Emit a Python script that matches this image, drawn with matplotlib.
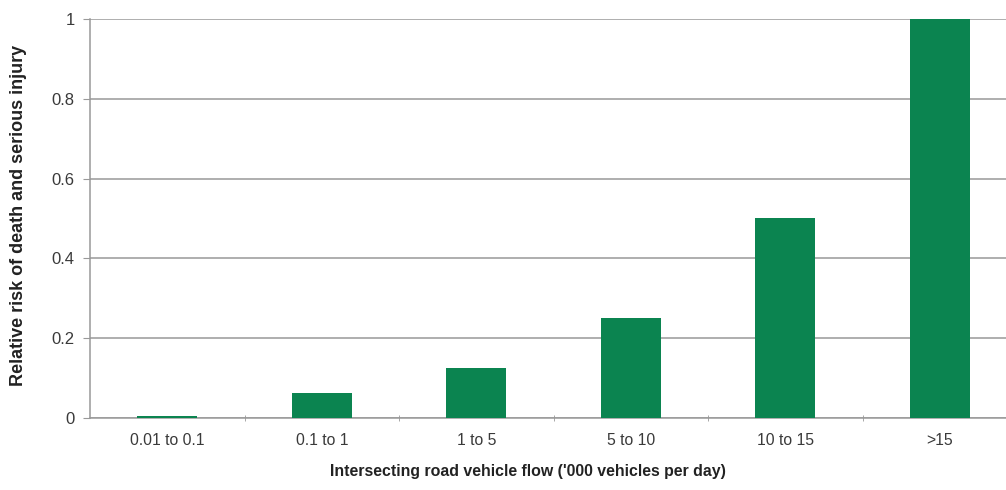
import matplotlib
matplotlib.use('Agg')
import matplotlib.pyplot as plt

categories = ["0.01 to 0.1", "0.1 to 1", "1 to 5", "5 to 10", "10 to 15", ">15"]
relative_risk = [0.005, 0.0625, 0.125, 0.25, 0.5, 1.0]
y_ticks = [0, 0.2, 0.4, 0.6, 0.8, 1]
y_tick_labels = ["0", "0.2", "0.4", "0.6", "0.8", "1"]

plt.rcParams['font.family'] = ['Liberation Sans', 'DejaVu Sans']

fig = plt.figure(figsize=(10.06, 4.9), dpi=100)
# axes run past the right edge, as in the cropped original
ax = fig.add_axes([90 / 1006, 1 - 418 / 490, 927 / 1006, 399 / 490])

x = list(range(len(categories)))
ax.bar(x, relative_risk, width=0.39, color='#0b8450', zorder=3)

ax.set_xlim(-0.5, len(categories) - 0.5)
ax.set_ylim(0, 1)
ax.set_yticks(y_ticks)
ax.set_yticklabels(y_tick_labels, fontsize=12, color='#3a3a3a')
ax.set_xticks(x)
ax.set_xticklabels(categories, fontsize=11.3, color='#3a3a3a')
ax.set_xticks([i + 0.5 for i in x[:-1]], minor=True)

ax.grid(axis='y', color='#999999', linewidth=1.1, zorder=0)
for s in ['top', 'right']:
    ax.spines[s].set_visible(False)
ax.spines['left'].set_color('#999999')
ax.spines['bottom'].set_color('#999999')
ax.spines['left'].set_linewidth(1.1)
ax.spines['bottom'].set_linewidth(1.1)

ax.tick_params(axis='y', length=5, color='#999999', pad=6)
ax.tick_params(axis='x', which='major', length=0, pad=11)
ax.tick_params(axis='x', which='minor', length=4, direction='inout', color='#999999')

fig.text(528 / 1006, 1 - 471 / 490, "Intersecting road vehicle flow ('000 vehicles per day)",
         ha='center', va='center', fontsize=11.4, fontweight='bold', color='#222222')
fig.text(19 / 1006, 1 - 215 / 490, "Relative risk of death and serious injury",
         ha='center', va='center', rotation=90, fontsize=13, fontweight='bold', color='#222222')

fig.savefig('out.png', dpi=100)
